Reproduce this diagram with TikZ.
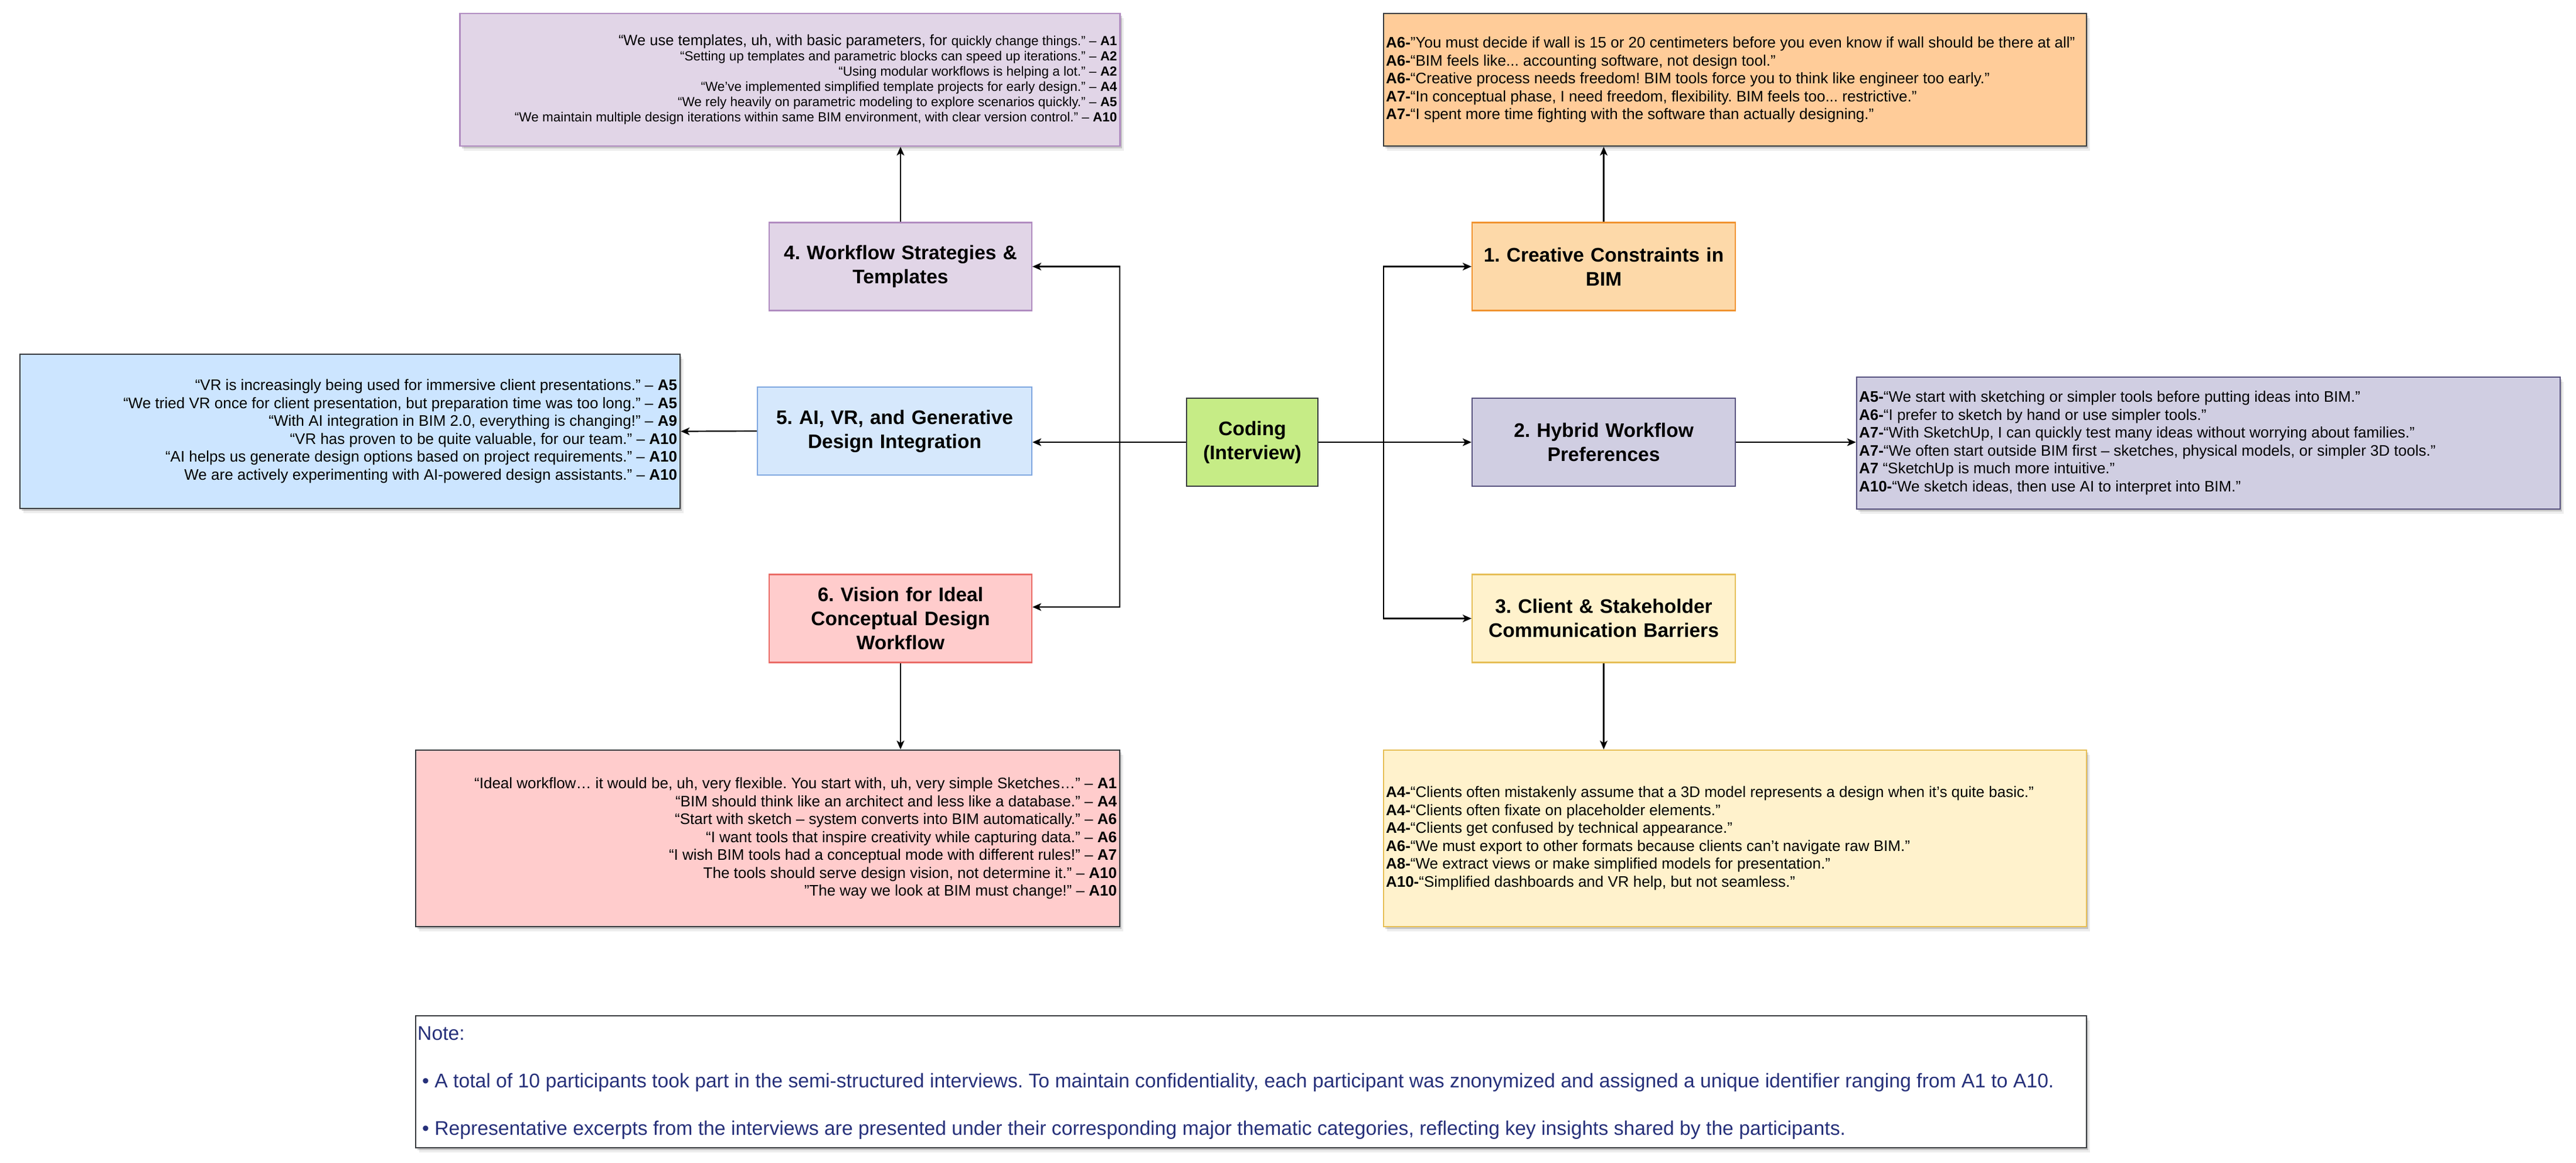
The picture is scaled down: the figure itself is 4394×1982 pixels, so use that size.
\documentclass[tikz,border=0pt]{standalone}
\usepackage{fontspec}
\setmainfont{Liberation Sans}
\usetikzlibrary{arrows.meta,shadows}
\frenchspacing
\definecolor{purpF}{HTML}{E1D5E7}
\definecolor{purpS}{HTML}{B08BC0}
\definecolor{oranF}{HTML}{FDD9A9}
\definecolor{oranS}{HTML}{F0922E}
\definecolor{oranQ}{HTML}{FFCC99}
\definecolor{blueF}{HTML}{D6E8FC}
\definecolor{blueS}{HTML}{7EA6E0}
\definecolor{blueQ}{HTML}{CCE5FF}
\definecolor{lavF}{HTML}{D0CEE2}
\definecolor{lavS}{HTML}{56517E}
\definecolor{greenF}{HTML}{C6EC86}
\definecolor{pinkF}{HTML}{FFCCCC}
\definecolor{pinkS}{HTML}{EA6B66}
\definecolor{yelF}{HTML}{FFF2CC}
\definecolor{yelS}{HTML}{E6BE55}
\definecolor{darkS}{HTML}{36393D}
\definecolor{noteC}{HTML}{26307A}
\begin{document}
\frenchspacing
\begin{tikzpicture}[x=1pt,y=-1pt,
  cat/.style={draw, line width=2.2pt, inner sep=0pt, minimum height=150pt, align=center,
    font=\fontsize{33.5}{41}\selectfont\bfseries},
  qbox/.style={draw, line width=2.5pt, inner sep=0pt,
    drop shadow={shadow xshift=3pt,shadow yshift=-4pt,fill=black,opacity=0.16},
    drop shadow={shadow xshift=6pt,shadow yshift=-8pt,fill=black,opacity=0.07}},
  qtext/.style={font=\fontsize{26}{30.5}\selectfont},
  notet/.style={inner sep=0pt, text=noteC, font=\fontsize{33.7}{40}\selectfont},
  arr/.style={line width=2.2pt, -{Stealth[length=15pt,width=13pt,inset=4pt]}},
]
\useasboundingbox (0,0) rectangle (4394,1982);
\fill[white] (0,0) rectangle (4394,1982);

% ---------- quote boxes ----------
\node[qbox, fill=purpF, draw=purpS, minimum width=1126pt, minimum height=226pt,
  text width=1116pt, align=flush right, font=\fontsize{22.5}{26}\selectfont] (q4) at (1347.5,136) {%
{\fontsize{25.5}{26}\selectfont “We use templates, uh, with basic parameters, for }quickly change things.” – \textbf{A1}\\
“Setting up templates and parametric blocks can speed up iterations.” – \textbf{A2}\\
“Using modular workflows is helping a lot.” – \textbf{A2}\\
“We’ve implemented simplified template projects for early design.” – \textbf{A4}\\
“We rely heavily on parametric modeling to explore scenarios quickly.” – \textbf{A5}\\
“We maintain multiple design iterations within same BIM environment, with clear version control.” – \textbf{A10}};

\node[qbox, fill=oranQ, draw=darkS, minimum width=1199pt, minimum height=226pt,
  text width=1191pt, align=flush left, qtext] (q1) at (2959.5,136) {%
\textbf{A6-}"You must decide if wall is 15 or 20 centimeters before you even know if wall should be there at all"\\
\textbf{A6-}“BIM feels like... accounting software, not design tool.”\\
\textbf{A6-}“Creative process needs freedom! BIM tools force you to think like engineer too early.”\\
\textbf{A7-}“In conceptual phase, I need freedom, flexibility. BIM feels too... restrictive.”\\
\textbf{A7-}“I spent more time fighting with the software than actually designing.”};

\node[qbox, fill=blueQ, draw=darkS, minimum width=1126pt, minimum height=263pt,
  text width=1116pt, align=flush right, qtext] (q5) at (597,735.5) {%
“VR is increasingly being used for immersive client presentations.” – \textbf{A5}\\
“We tried VR once for client presentation, but preparation time was too long.” – \textbf{A5}\\
“With AI integration in BIM 2.0, everything is changing!” – \textbf{A9}\\
“VR has proven to be quite valuable, for our team.” – \textbf{A10}\\
“AI helps us generate design options based on project requirements.” – \textbf{A10}\\
We are actively experimenting with AI-powered design assistants.” – \textbf{A10}};

\node[qbox, fill=lavF, draw=lavS, minimum width=1200pt, minimum height=225pt,
  text width=1192pt, align=flush left, qtext] (q2) at (3767,755.5) {%
\textbf{A5-}“We start with sketching or simpler tools before putting ideas into BIM."\\
\textbf{A6-}“I prefer to sketch by hand or use simpler tools.”\\
\textbf{A7-}“With SketchUp, I can quickly test many ideas without worrying about families.”\\
\textbf{A7-}“We often start outside BIM first – sketches, physical models, or simpler 3D tools.”\\
\textbf{A7} “SketchUp is much more intuitive.”\\
\textbf{A10-}“We sketch ideas, then use AI to interpret into BIM.”};

\node[qbox, fill=pinkF, draw=darkS, minimum width=1201pt, minimum height=301pt,
  text width=1191pt, align=flush right, qtext] (q6) at (1309.5,1429.5) {%
“Ideal workflow… it would be, uh, very flexible. You start with, uh, very simple Sketches…” – \textbf{A1}\\
“BIM should think like an architect and less like a database.” – \textbf{A4}\\
“Start with sketch – system converts into BIM automatically.” – \textbf{A6}\\
“I want tools that inspire creativity while capturing data.” – \textbf{A6}\\
“I wish BIM tools had a conceptual mode with different rules!” – \textbf{A7}\\
The tools should serve design vision, not determine it.” – \textbf{A10}\\
"The way we look at BIM must change!" – \textbf{A10}};

\node[qbox, fill=yelF, draw=yelS, minimum width=1199pt, minimum height=301pt,
  text width=1191pt, align=flush left, qtext] (q3) at (2959.5,1429.5) {%
\textbf{A4-}“Clients often mistakenly assume that a 3D model represents a design when it’s quite basic.”\\
\textbf{A4-}“Clients often fixate on placeholder elements.”\\
\textbf{A4-}“Clients get confused by technical appearance.”\\
\textbf{A6-}“We must export to other formats because clients can’t navigate raw BIM.”\\
\textbf{A8-}“We extract views or make simplified models for presentation.”\\
\textbf{A10-}“Simplified dashboards and VR help, but not seamless.”};

% ---------- category nodes ----------
\node[cat, fill=purpF, draw=purpS, minimum width=448pt, text width=440pt] (n4) at (1536,454.5) {4. Workflow Strategies \&\\Templates};
\node[cat, fill=oranF, draw=oranS, minimum width=449pt, text width=440pt] (n1) at (2735.5,454.5) {1. Creative Constraints in\\BIM};
\node[cat, fill=blueF, draw=blueS, minimum width=468pt, text width=460pt] (n5) at (1526,735) {5. AI, VR, and Generative\\Design Integration};
\node[cat, fill=greenF, draw=darkS, minimum width=224pt, text width=218pt] (coding) at (2136,754) {Coding\\(Interview)};
\node[cat, fill=lavF, draw=lavS, minimum width=449pt, text width=440pt] (n2) at (2735.5,754) {2. Hybrid Workflow\\Preferences};
\node[cat, fill=pinkF, draw=pinkS, minimum width=448pt, text width=440pt] (n6) at (1536,1054.5) {6. Vision for Ideal\\Conceptual Design\\Workflow};
\node[cat, fill=yelF, draw=yelS, minimum width=449pt, text width=440pt] (n3) at (2735.5,1054.5) {3. Client \& Stakeholder\\Communication Barriers};

% ---------- connectors ----------
\coordinate (lj) at (1910,754);
\coordinate (rj) at (2360,754);
\draw[arr] (coding.west) -- (coding.west -| n5.east);
\draw[arr] (coding.west) -- (lj) |- (n4.east);
\draw[arr] (coding.west) -- (lj) |- ([yshift=19.5pt]n6.east);
\draw[arr] (coding.east) -- (rj) |- (n1.west);
\draw[arr] (coding.east) -- (coding.east -| n2.west);
\draw[arr] (coding.east) -- (rj) |- (n3.west);
\draw[arr] (n4.north) -- (n4.north |- q4.south);
\draw[arr] (n1.north) -- (n1.north |- q1.south);
\draw[arr] (n5.west) -- (q5.east);
\draw[arr] (n2.east) -- (n2.east -| q2.west);
\draw[arr] (n6.south) -- (n6.south |- q6.north);
\draw[arr] (n3.south) -- (n3.south |- q3.north);

% ---------- note ----------
\node[qbox, fill=white, draw=darkS, minimum width=2850pt, minimum height=225pt] (note) at (2134,1844.5) {};
\node[notet, anchor=base west] (nl0) at (712,1773) {Note:};
\node[notet, anchor=base west] (nl1) at (712,1854) {\hspace*{8pt}• A total of 10 participants took part in the semi-structured interviews. To maintain confidentiality, each participant was znonymized and assigned a unique identifier ranging from A1 to A10.};
\node[notet, anchor=base west] (nl2) at (712,1935) {\hspace*{8pt}• Representative excerpts from the interviews are presented under their corresponding major thematic categories, reflecting key insights shared by the participants.};
\end{tikzpicture}
\end{document}
